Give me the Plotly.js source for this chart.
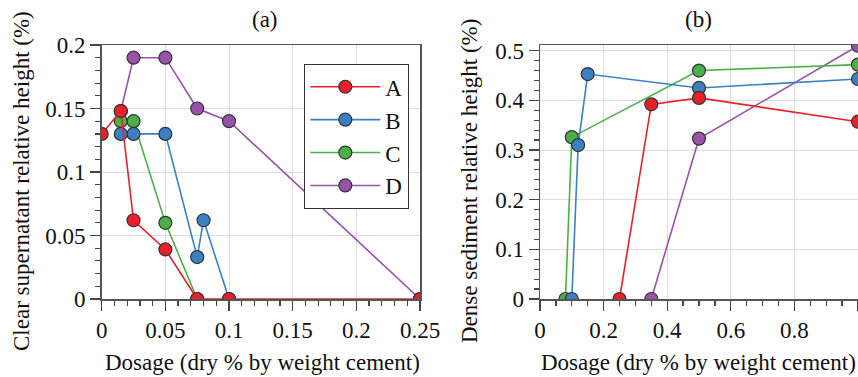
<!DOCTYPE html>
<html>
<head>
<meta charset="utf-8">
<script src="https://cdn.plot.ly/plotly-3.0.1.min.js"></script>
<style>html,body{margin:0;padding:0;background:#fff;}#chart{width:858px;height:377px;}</style>
</head>
<body>
<div id="chart"></div>
<script>
// Panel (a): clear supernatant relative height
const aA_x = [0, 0.015, 0.025, 0.05, 0.075, 0.1, 0.25];
const aA_y = [0.13, 0.148, 0.062, 0.039, 0, 0, 0];
const aB_x = [0.015, 0.025, 0.05, 0.075, 0.08, 0.1];
const aB_y = [0.13, 0.13, 0.13, 0.033, 0.062, 0];
const aC_x = [0.015, 0.025, 0.05, 0.075];
const aC_y = [0.14, 0.14, 0.06, 0];
const aD_x = [0.015, 0.025, 0.05, 0.075, 0.1, 0.25];
const aD_y = [0.148, 0.19, 0.19, 0.15, 0.14, 0];

// Panel (b): dense sediment relative height
const bA_x = [0.25, 0.35, 0.5, 1.0];
const bA_y = [0, 0.392, 0.405, 0.357];
const bB_x = [0.1, 0.12, 0.15, 0.5, 1.0];
const bB_y = [0, 0.31, 0.453, 0.425, 0.443];
const bC_x = [0.08, 0.1, 0.5, 1.0];
const bC_y = [0, 0.326, 0.46, 0.472];
const bD_x = [0.35, 0.5, 1.0];
const bD_y = [0, 0.323, 0.51];

const seriesNames = ['A', 'B', 'C', 'D'];
const colors = ['#e8202a', '#3a80c2', '#4caf4a', '#9852a8'];
const titles = ['(a)', '(b)'];
const yTitles = ['Clear supernatant relative height (%)', 'Dense sediment relative height (%)'];
const xTitle = 'Dosage (dry % by weight cement)';

const FONT = 'Liberation Serif';
const FS = 23;

function tr(x, y, i, xa, ya, show) {
  return {
    x: x, y: y, name: seriesNames[i], type: 'scatter', mode: 'lines+markers',
    xaxis: xa, yaxis: ya, showlegend: show, legendgroup: seriesNames[i],
    line: {color: colors[i], width: 1.6},
    marker: {color: colors[i], size: 13, line: {color: '#333', width: 1.2}},
    cliponaxis: true
  };
}

// Draw D, C, B, A so A sits on top (as in the reference)
const data = [
  tr(aD_x, aD_y, 3, 'x', 'y', true),
  tr(aC_x, aC_y, 2, 'x', 'y', true),
  tr(aB_x, aB_y, 1, 'x', 'y', true),
  tr(aA_x, aA_y, 0, 'x', 'y', true),
  tr(bD_x, bD_y, 3, 'x2', 'y2', false),
  tr(bC_x, bC_y, 2, 'x2', 'y2', false),
  tr(bB_x, bB_y, 1, 'x2', 'y2', false),
  tr(bA_x, bA_y, 0, 'x2', 'y2', false)
];

const W = 858, H = 377;
const axBase = {
  showline: true, mirror: true, linecolor: '#555', linewidth: 1.5,
  ticks: 'outside', ticklen: 10, tickwidth: 1.2, tickcolor: '#444',
  showgrid: true, gridcolor: '#dcdcdc', gridwidth: 1,
  zeroline: false, tickfont: {family: FONT, size: FS, color: '#111'},
  fixedrange: true
};
function ax(extra, minor) {
  return Object.assign({}, axBase, extra, {
    minor: {dtick: minor, ticks: 'outside', ticklen: 5, tickwidth: 1.2, tickcolor: '#444', showgrid: false}
  });
}

function ann(text, px, py, angle) {
  return {text: text, x: px / W, y: (H - py) / H, xref: 'paper', yref: 'paper',
    xanchor: 'center', yanchor: 'middle', showarrow: false, textangle: angle || 0,
    font: {family: FONT, size: FS, color: '#111'}};
}

const yDom = [(H - 299) / H, (H - 45) / H];
const layout = {
  width: W, height: H,
  margin: {l: 0, r: 0, t: 0, b: 0},
  paper_bgcolor: '#fff', plot_bgcolor: '#fff',
  font: {family: FONT, size: FS, color: '#111'},
  xaxis: ax({domain: [101.7 / W, 420 / W], range: [0, 0.25], tickvals: [0, 0.05, 0.1, 0.15, 0.2, 0.25], ticktext: ['0', '0.05', '0.1', '0.15', '0.2', '0.25'], anchor: 'y'}, 0.01),
  yaxis: ax({domain: yDom, range: [0, 0.2], tickvals: [0, 0.05, 0.1, 0.15, 0.2], ticktext: ['0', '0.05', '0.1', '0.15', '0.2'], anchor: 'x'}, 0.01),
  xaxis2: ax({domain: [540 / W, 1], range: [0, 1.0], tickvals: [0, 0.2, 0.4, 0.6, 0.8, 1], ticktext: ['0', '0.2', '0.4', '0.6', '0.8', '1'], anchor: 'y2'}, 0.05),
  yaxis2: ax({domain: yDom, range: [0, 0.5115], tickvals: [0, 0.1, 0.2, 0.3, 0.4, 0.5], ticktext: ['0', '0.1', '0.2', '0.3', '0.4', '0.5'], anchor: 'x2'}, 0.02),
  showlegend: true,
  legend: {
    x: 304 / W, y: (H - 64) / H, xanchor: 'left', yanchor: 'top',
    bgcolor: '#fff', bordercolor: '#333', borderwidth: 1.3,
    font: {family: FONT, size: FS, color: '#111'},
    traceorder: 'reversed', tracegroupgap: 0, itemwidth: 70
  },
  annotations: [
    ann(titles[0], 265, 20),
    ann(titles[1], 698, 20),
    ann(yTitles[0], 21, 181, -90),
    ann(yTitles[1], 469, 181, -90),
    ann(xTitle, 262, 362),
    ann(xTitle, 698, 362)
  ]
};

Plotly.newPlot('chart', data, layout, {staticPlot: true, displayModeBar: false});
</script>
</body>
</html>
